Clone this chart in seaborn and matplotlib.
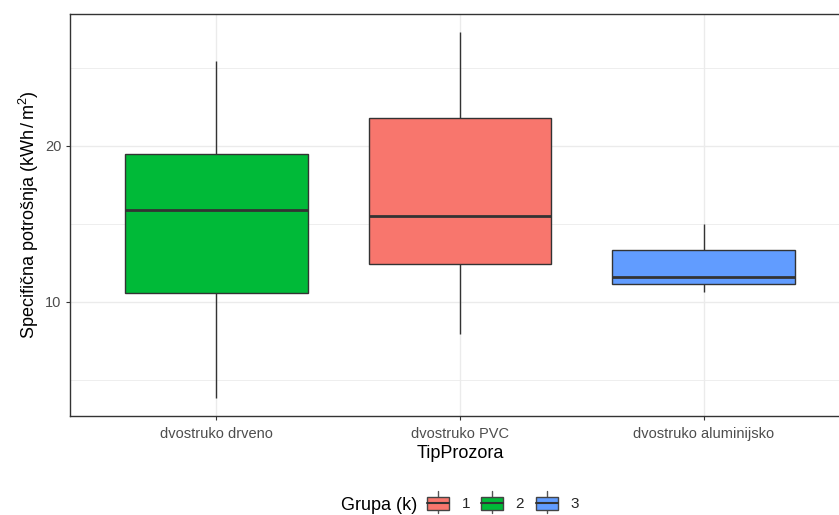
import numpy as np
import pandas as pd
import matplotlib
matplotlib.use("Agg")
import matplotlib.pyplot as plt
import seaborn as sns
from matplotlib.legend_handler import HandlerBase
from matplotlib.patches import Rectangle
from matplotlib.lines import Line2D

# ---- data (five-number summaries) ----
categories = ["dvostruko drveno", "dvostruko PVC", "dvostruko aluminijsko"]
groups = ["2", "1", "3"]
mins = [3.83, 7.93, 10.62]
q1s = [10.56, 12.44, 11.12]
medians = [15.88, 15.49, 11.60]
q3s = [19.45, 21.82, 13.31]
maxs = [25.47, 27.29, 14.98]
group_order = ["1", "2", "3"]
group_colors = ["#F8766D", "#00BA38", "#619CFF"]

rows = []
for cat, g, a, b, c, d, e in zip(categories, groups, mins, q1s, medians, q3s, maxs):
    for v in (a, b, c, d, e):
        rows.append({"TipProzora": cat, "value": v, "Grupa": g})
df = pd.DataFrame(rows)

sns.set_theme(style="white")
plt.rcParams["font.family"] = ["Liberation Sans", "DejaVu Sans"]
plt.rcParams["mathtext.fontset"] = "custom"
plt.rcParams["mathtext.rm"] = "Liberation Sans"
plt.rcParams["mathtext.it"] = "Liberation Sans"

fig = plt.figure(figsize=(8.39, 5.15), dpi=100)
W, H = 839, 515
ax = fig.add_axes([70 / W, 1 - 416 / H, (850 - 70) / W, (416 - 14) / H])

palette = dict(zip(group_order, group_colors))
edge = "#333333"
sns.boxplot(
    data=df, x="TipProzora", y="value", hue="Grupa", order=categories,
    hue_order=group_order, palette=palette, dodge=False, width=0.75,
    whis=np.inf, saturation=1, ax=ax, legend=False,
    boxprops=dict(edgecolor=edge, linewidth=1.0),
    whiskerprops=dict(color=edge, linewidth=1.0),
    capprops=dict(linewidth=0),
    medianprops=dict(color=edge, linewidth=2.0),
)

ax.set_ylim(2.66, 28.47)
ax.set_xlim(-0.6, 2.6)
ax.set_yticks([10, 20])
ax.set_yticks([5, 15, 25], minor=True)
ax.grid(True, which="major", color="#EBEBEB", linewidth=1.0)
ax.grid(True, which="minor", axis="y", color="#EBEBEB", linewidth=0.6)
ax.set_axisbelow(True)
for s in ax.spines.values():
    s.set_color("#333333")
    s.set_linewidth(1.0)
ax.tick_params(axis="both", which="major", length=3, width=0.8, color="#333333",
               labelsize=10.5, labelcolor="#4D4D4D", left=True, bottom=True, pad=3)
ax.tick_params(axis="x", which="major", pad=5)
ax.tick_params(axis="y", which="minor", length=0)
ax.set_xlabel("TipProzora", fontsize=13, color="black", labelpad=3)
ax.set_ylabel(r"Specifična potrošnja (kWh$\,/\,$m$^{2}$)", fontsize=13, color="black", labelpad=3)


class BoxHandler(HandlerBase):
    def __init__(self, color):
        super().__init__()
        self.color = color

    def create_artists(self, legend, orig_handle, xdescent, ydescent, width, height, fontsize, trans):
        cx = width / 2 - xdescent
        x0 = -xdescent
        y0 = -ydescent
        wl = Line2D([cx, cx], [y0 - height * 0.3, y0 + height * 1.4], color="#555555", lw=1.0, transform=trans)
        r = Rectangle((x0, y0), width, height,
                      facecolor=self.color, edgecolor="#444444", lw=1.0, transform=trans)
        ml = Line2D([x0, x0 + width], [y0 + height * 0.5] * 2,
                    color=edge, lw=1.5, transform=trans)
        return [wl, r, ml]


handles = [Rectangle((0, 0), 1, 1) for _ in group_order]
hmap = {h: BoxHandler(c) for h, c in zip(handles, group_colors)}
fig.text(341 / W, 1 - 505 / H, "Grupa (k)", fontsize=13, color="black", ha="left", va="center")
leg = fig.legend(handles, group_order, handler_map=hmap, loc="center left",
                 bbox_to_anchor=(427 / W, 1 - 504 / H), ncol=3, frameon=False,
                 fontsize=11, borderaxespad=0, borderpad=0,
                 handlelength=1.45, handleheight=0.92, handletextpad=0.8, columnspacing=0.75)

fig.savefig("out.png", dpi=100)
